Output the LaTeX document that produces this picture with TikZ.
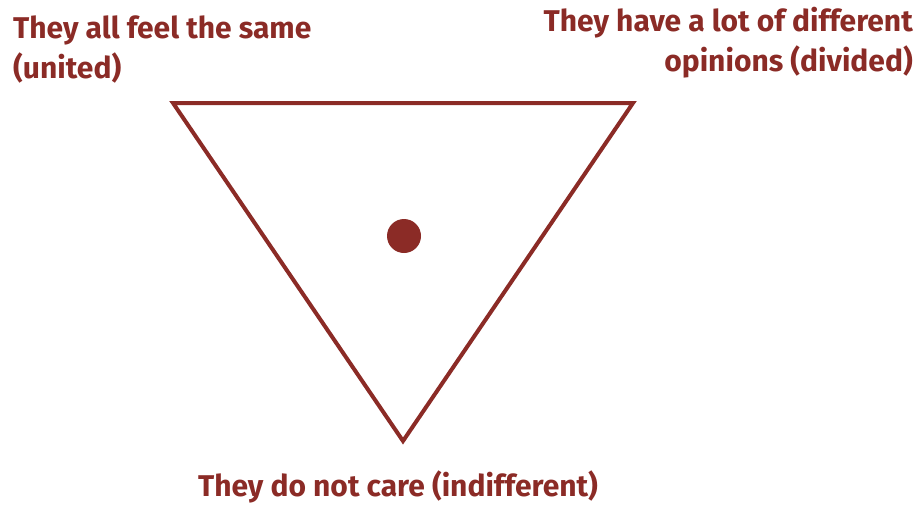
\documentclass[tikz,border=0pt]{standalone}
\usepackage{fontspec}
\setmainfont{Fira Sans}
\definecolor{dred}{HTML}{8B2B26}
\begin{document}
\begin{tikzpicture}[x=1pt,y=-1pt,
  lbl/.style={text=dred,font=\fontsize{30}{40}\selectfont\bfseries,inner sep=0pt},
  tri/.style={draw=dred,line width=4pt,line join=miter}]
\useasboundingbox (0,0) rectangle (921,504);
\coordinate (tl) at (173,103);
\coordinate (tr) at (633,103);
\coordinate (bt) at (403,441);
\draw[tri] (tl) -- (tr) -- (bt) -- cycle;
\fill[dred] (404,236) circle (17);
\node[lbl,anchor=base west,align=left] (united) at (13,78) {They all feel the same\\(united)};
\node[lbl,anchor=base east,align=right] (divided) at (913,71) {They have a lot of different\\opinions (divided)};
\node[lbl,anchor=base] (indiff) at (398,496) {They do not care (indifferent)};
\end{tikzpicture}
\end{document}
